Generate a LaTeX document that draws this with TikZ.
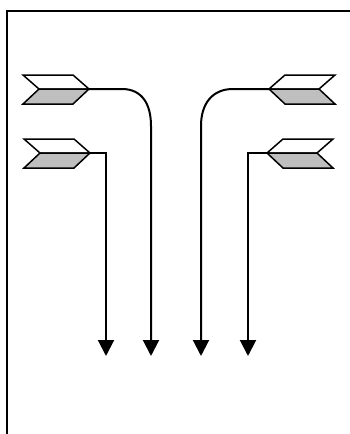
\documentclass[tikz,border=0pt]{standalone}
\usetikzlibrary{arrows.meta}
\begin{document}
\begin{tikzpicture}[x=1pt,y=-1pt,
  frameline/.style={line width=2pt},
  chevline/.style={line width=1.5pt, line join=miter},
  conn/.style={line width=2pt, -{Triangle[width=16pt,length=16pt]}},
  chev/.pic={
    \draw[chevline,fill=white] (-66,-14) -- (-16,-14) -- (0,0) -- (-50,0) -- cycle;
    \draw[chevline,fill=black!25] (-50,0) -- (0,0) -- (-16,15) -- (-66,15) -- cycle;
  }]
\useasboundingbox (0,0) rectangle (350,434);
\fill[white] (0,0) rectangle (350,434);
% frame
\draw[frameline] (7,434) -- (7,11) -- (350,11);
% chevrons
\coordinate (tipA) at (89,89);
\coordinate (tipB) at (90,153);
\coordinate (tipC) at (269,89);
\coordinate (tipD) at (267,153);
\pic at (tipA) {chev};
\pic at (tipB) {chev};
\pic[xscale=-1] at (tipC) {chev};
\pic[xscale=-1] at (tipD) {chev};
% arrow ends
\coordinate (endA) at (151,356);
\coordinate (endB) at (106,356);
\coordinate (endC) at (201,356);
\coordinate (endD) at (248,356);
% connectors
\draw[conn] (tipA) -- (122,89) .. controls (142,89) and (151,104) .. (151,126) -- (endA);
\draw[conn] (tipB) -| (endB);
\draw[conn] (tipC) -- (233,89) .. controls (212,89) and (201,104) .. (201,126) -- (endC);
\draw[conn] (tipD) -| (endD);
\end{tikzpicture}
\end{document}
